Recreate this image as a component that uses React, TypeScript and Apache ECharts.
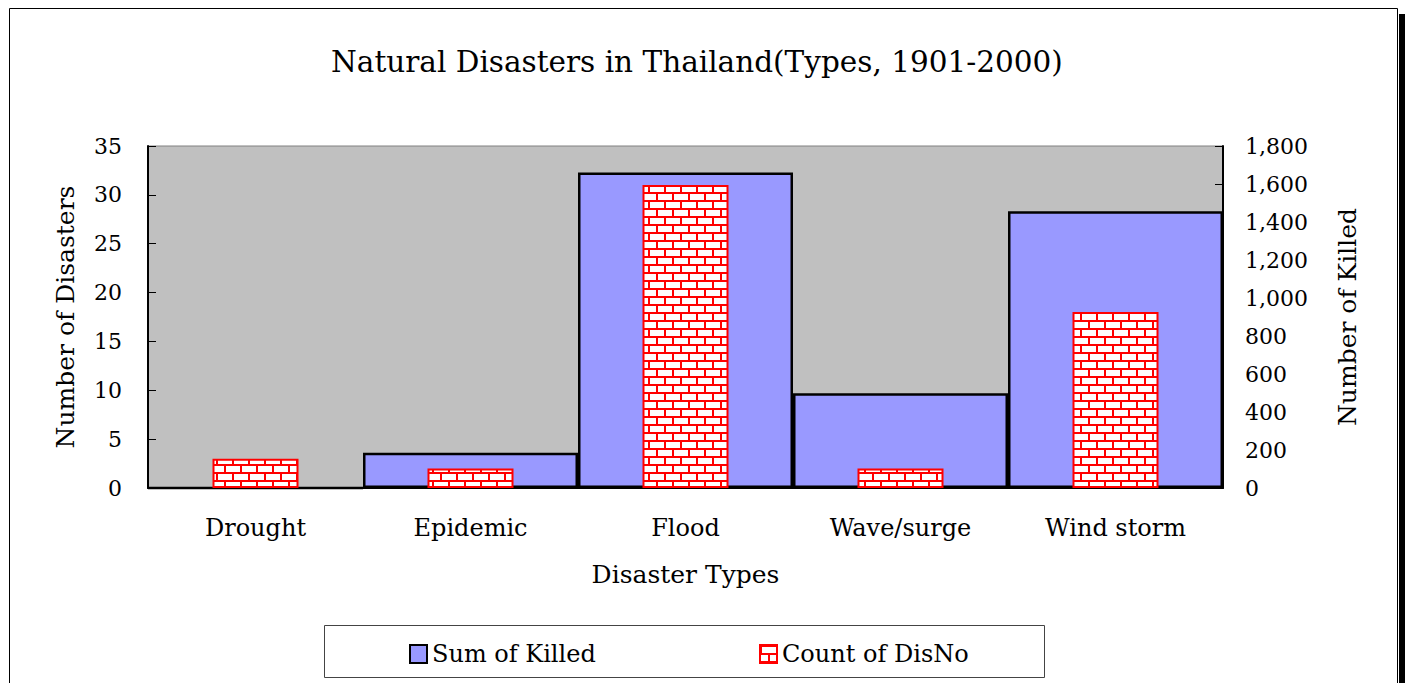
import React, { useEffect, useRef } from "react";
import * as echarts from "echarts";

const categories = ["Drought", "Epidemic", "Flood", "Wave/surge", "Wind storm"];
const countOfDisNo = [3, 2, 31, 2, 18];
const sumOfKilled = [0, 185, 1661, 499, 1457];
const titleText = "Natural Disasters in Thailand(Types, 1901-2000)";

const FONT = "DejaVu Serif";

function makeBrick(): HTMLCanvasElement {
  const c = document.createElement("canvas");
  c.width = 16;
  c.height = 16;
  const ctx = c.getContext("2d")!;
  ctx.fillStyle = "#ffffff";
  ctx.fillRect(0, 0, 16, 16);
  ctx.fillStyle = "#ff0000";
  ctx.fillRect(0, 0, 16, 2);
  ctx.fillRect(0, 8, 16, 2);
  ctx.fillRect(0, 0, 2, 8);
  ctx.fillRect(8, 8, 2, 8);
  return c;
}

export default function App() {
  const ref = useRef<HTMLDivElement>(null);
  useEffect(() => {
    if (!ref.current) return;
    const chart = echarts.init(ref.current, undefined, { renderer: "svg" });
    const brick = makeBrick();
    const txt = { fontFamily: FONT, fontSize: 22, color: "#000" };
    const nameTxt = { fontFamily: FONT, fontSize: 25, color: "#000" };
    const catTxt = { fontFamily: FONT, fontSize: 24, color: "#000" };
    chart.setOption({
      animation: false,
      backgroundColor: "#ffffff",
      title: {
        text: titleText,
        left: 326,
        top: 42,
        textStyle: { fontFamily: FONT, fontSize: 29.5, fontWeight: "normal", color: "#000" },
      },
      graphic: [
        { type: "rect", shape: { x: 9.5, y: 8.5, width: 1388, height: 700 }, style: { fill: "none", stroke: "#000", lineWidth: 1 }, z: 100 },
        { type: "rect", shape: { x: 1399, y: 14, width: 6, height: 700 }, style: { fill: "#000" }, z: 100 },
        { type: "rect", shape: { x: 324.5, y: 625.5, width: 720, height: 52 }, style: { fill: "none", stroke: "#444", lineWidth: 1 }, z: 100 },
      ],
      legend: [
        {
          data: ["Sum of Killed"],
          left: 404,
          top: 637,
          icon: "rect",
          itemWidth: 17,
          itemHeight: 18,
          itemGap: 6,
          textStyle: { ...catTxt },
        },
        {
          data: ["Count of DisNo"],
          left: 754,
          top: 637,
          icon: "rect",
          itemWidth: 17,
          itemHeight: 18,
          itemGap: 6,
          textStyle: { ...catTxt },
        },
      ],
      grid: {
        left: 148,
        right: 184,
        top: 146,
        bottom: 195,
        show: true,
        backgroundColor: "#c0c0c0",
        borderColor: "#808080",
        borderWidth: 1,
      },
      xAxis: [
        {
          type: "category",
          data: categories,
          name: "Disaster Types",
          nameLocation: "middle",
          nameGap: 74,
          nameTextStyle: nameTxt,
          axisLine: { show: true, lineStyle: { color: "#000", width: 2 } },
          axisTick: { show: false },
          axisLabel: { ...catTxt, margin: 28 },
          splitLine: { show: false },
        },
        {
          type: "category",
          data: categories,
          show: false,
          position: "bottom",
        },
      ],
      yAxis: [
        {
          type: "value",
          min: 0,
          max: 35,
          interval: 5,
          name: "Number of Disasters",
          nameLocation: "middle",
          nameGap: 70,
          nameRotate: 90,
          nameTextStyle: nameTxt,
          axisLine: { show: true, lineStyle: { color: "#000", width: 2 } },
          axisTick: { show: true, inside: true, length: 8, lineStyle: { color: "#000" } },
          axisLabel: { ...txt, margin: 26 },
          splitLine: { show: false },
        },
        {
          type: "value",
          min: 0,
          max: 1800,
          interval: 200,
          position: "right",
          name: "Number of Killed",
          nameLocation: "middle",
          nameGap: 112,
          nameRotate: 90,
          nameTextStyle: nameTxt,
          axisLine: { show: true, lineStyle: { color: "#000", width: 2 } },
          axisTick: { show: true, inside: true, length: 8, lineStyle: { color: "#000" } },
          axisLabel: {
            ...txt,
            margin: 22,
            formatter: (v: number) => v.toLocaleString("en-US"),
          },
          splitLine: { show: false },
        },
      ],
      series: [
        {
          name: "Sum of Killed",
          type: "bar",
          xAxisIndex: 0,
          yAxisIndex: 1,
          data: sumOfKilled,
          barWidth: "100%",
          itemStyle: { color: "#9999ff", borderColor: "#000", borderWidth: 2.5 },
          z: 2,
        },
        {
          name: "Count of DisNo",
          type: "bar",
          xAxisIndex: 1,
          yAxisIndex: 0,
          data: countOfDisNo,
          barWidth: "40%",
          itemStyle: {
            color: { image: brick, repeat: "repeat" },
            borderColor: "#ff0000",
            borderWidth: 2,
          },
          z: 3,
        },
      ],
    });
    return () => chart.dispose();
  }, []);
  return (
    <div
      ref={ref}
      style={{ position: "fixed", left: 0, top: 0, width: 1407, height: 683 }}
    />
  );
}
